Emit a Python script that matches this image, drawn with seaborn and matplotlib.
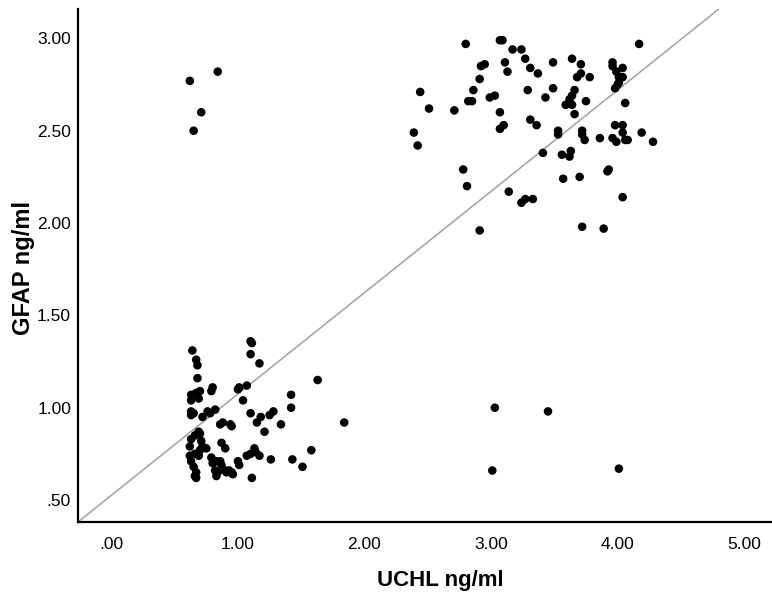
import matplotlib
matplotlib.use("Agg")
import matplotlib.pyplot as plt
import seaborn as sns
import pandas as pd

# UCHL (x) and GFAP (y) values, ng/ml
uchl_upper = [2.80, 3.07, 3.09, 3.17, 3.24, 3.27, 3.31, 3.37, 3.11, 3.13, 2.92, 2.95, 2.91, 2.86,
              2.82, 2.85, 2.99, 3.03, 2.44, 2.51, 2.71, 2.39, 2.42, 3.07, 3.07, 3.10, 3.29, 3.31,
              3.36, 3.49, 3.64, 3.71, 3.71, 3.68, 3.78, 3.49, 3.43, 3.66, 3.64, 3.62, 3.59, 3.64,
              3.66, 3.75, 3.96, 3.96, 3.99, 4.04, 4.04, 4.01, 4.00, 4.01, 3.98, 4.17, 4.06, 3.53,
              3.53, 3.72, 3.74, 3.72, 3.86, 3.96, 3.99, 3.98, 4.04, 4.06, 4.08, 4.04, 4.19, 4.28,
              3.41, 3.56, 3.62, 3.63, 2.78, 2.81, 3.14, 3.24, 3.27, 3.33, 3.57, 3.70, 3.92, 3.93,
              4.04, 2.91, 3.72, 3.89]
gfap_upper = [2.97, 2.99, 2.99, 2.94, 2.94, 2.89, 2.84, 2.81, 2.87, 2.82, 2.85, 2.86, 2.78, 2.72,
              2.66, 2.66, 2.68, 2.69, 2.71, 2.62, 2.61, 2.49, 2.42, 2.60, 2.51, 2.53, 2.72, 2.56,
              2.53, 2.87, 2.89, 2.86, 2.81, 2.79, 2.79, 2.73, 2.68, 2.72, 2.69, 2.67, 2.64, 2.64,
              2.59, 2.66, 2.87, 2.85, 2.82, 2.84, 2.79, 2.79, 2.75, 2.76, 2.73, 2.97, 2.65, 2.50,
              2.48, 2.50, 2.45, 2.48, 2.46, 2.46, 2.44, 2.53, 2.53, 2.45, 2.45, 2.49, 2.49, 2.44,
              2.38, 2.37, 2.36, 2.39, 2.29, 2.20, 2.17, 2.11, 2.13, 2.13, 2.24, 2.25, 2.28, 2.29,
              2.14, 1.96, 1.98, 1.97]

uchl_outlier = [0.62, 0.84, 0.71, 0.65, 3.03, 3.45, 3.01, 4.01]
gfap_outlier = [2.77, 2.82, 2.60, 2.50, 1.00, 0.98, 0.66, 0.67]

uchl_lower = [0.64, 0.67, 0.68, 0.68, 1.10, 1.11, 1.10, 1.17, 1.63, 1.84, 1.42, 1.42, 0.80, 0.79,
              1.00, 1.01, 1.07, 1.04, 0.63, 0.63, 0.67, 0.70, 0.69, 0.63, 0.63, 0.65, 0.72, 0.76,
              0.82, 0.78, 1.10, 1.18, 1.15, 1.25, 1.28, 1.34, 0.86, 0.88, 0.94, 0.95, 1.21, 0.69,
              0.70, 0.66, 0.63, 0.71, 0.75, 0.72, 0.62, 0.62, 0.66, 0.69, 0.70, 0.63, 0.65, 0.67,
              0.66, 0.67, 0.87, 0.90, 0.79, 0.80, 0.83, 0.86, 0.87, 0.82, 0.84, 0.83, 0.90, 0.91,
              0.95, 0.93, 0.96, 1.00, 1.01, 1.07, 1.10, 1.13, 1.14, 1.17, 1.26, 1.11, 1.58, 1.43,
              1.51]
gfap_lower = [1.31, 1.26, 1.23, 1.16, 1.36, 1.35, 1.29, 1.24, 1.15, 0.92, 1.07, 1.00, 1.11, 1.09,
              1.10, 1.11, 1.12, 1.04, 1.07, 1.04, 1.08, 1.09, 1.05, 0.98, 0.96, 0.97, 0.95, 0.98,
              0.99, 0.97, 0.97, 0.95, 0.92, 0.96, 0.98, 0.91, 0.91, 0.92, 0.91, 0.90, 0.87, 0.87,
              0.86, 0.85, 0.83, 0.82, 0.78, 0.79, 0.79, 0.74, 0.75, 0.74, 0.77, 0.71, 0.68, 0.65,
              0.63, 0.62, 0.81, 0.78, 0.73, 0.70, 0.71, 0.71, 0.69, 0.66, 0.65, 0.63, 0.66, 0.65,
              0.65, 0.66, 0.64, 0.71, 0.69, 0.74, 0.75, 0.78, 0.76, 0.74, 0.72, 0.62, 0.77, 0.72,
              0.68]

x_ticks = [0, 1, 2, 3, 4, 5]
x_tick_labels = [".00", "1.00", "2.00", "3.00", "4.00", "5.00"]
y_ticks = [0.5, 1.0, 1.5, 2.0, 2.5, 3.0]
y_tick_labels = [".50", "1.00", "1.50", "2.00", "2.50", "3.00"]

# reference line through two points (data units)
line_p1 = (-0.264, 0.381)
line_p2 = (4.80, 3.159)

df = pd.DataFrame({
    "UCHL": uchl_upper + uchl_outlier + uchl_lower,
    "GFAP": gfap_upper + gfap_outlier + gfap_lower,
})

sns.set_style("white")
plt.rcParams["font.family"] = ["Liberation Sans", "DejaVu Sans"]
plt.rcParams["text.color"] = "black"
plt.rcParams["axes.labelcolor"] = "black"

fig = plt.figure(figsize=(7.72, 6.01), dpi=100)
ax = fig.add_axes([0.101, 0.1314, 0.899, 0.8536])

sns.scatterplot(data=df, x="UCHL", y="GFAP", ax=ax, color="black", s=38,
                linewidth=0, edgecolor="none", zorder=3)
ax.axline(line_p1, line_p2, color="#a6a6a6", lw=1.2, zorder=2)

ax.set_xlim(-0.264, 5.22)
ax.set_ylim(0.381, 3.159)
ax.set_xticks(x_ticks)
ax.set_xticklabels(x_tick_labels, fontsize=12.5, color="black")
ax.set_yticks(y_ticks)
ax.set_yticklabels(y_tick_labels, fontsize=12.5, color="black")
ax.tick_params(axis="both", length=0, colors="black")
ax.tick_params(axis="x", pad=11)
ax.tick_params(axis="y", pad=5)

for side in ["top", "right"]:
    ax.spines[side].set_visible(False)
for side in ["left", "bottom"]:
    ax.spines[side].set_color("black")
    ax.spines[side].set_linewidth(1.6)

ax.set_xlabel("UCHL ng/ml", fontsize=16, fontweight="bold", color="black")
ax.set_ylabel("GFAP ng/ml", fontsize=17, fontweight="bold", color="black")
ax.xaxis.set_label_coords(0.522, -0.094)
ax.yaxis.set_label_coords(-0.062, 0.495)

fig.savefig("out.png", dpi=100)
